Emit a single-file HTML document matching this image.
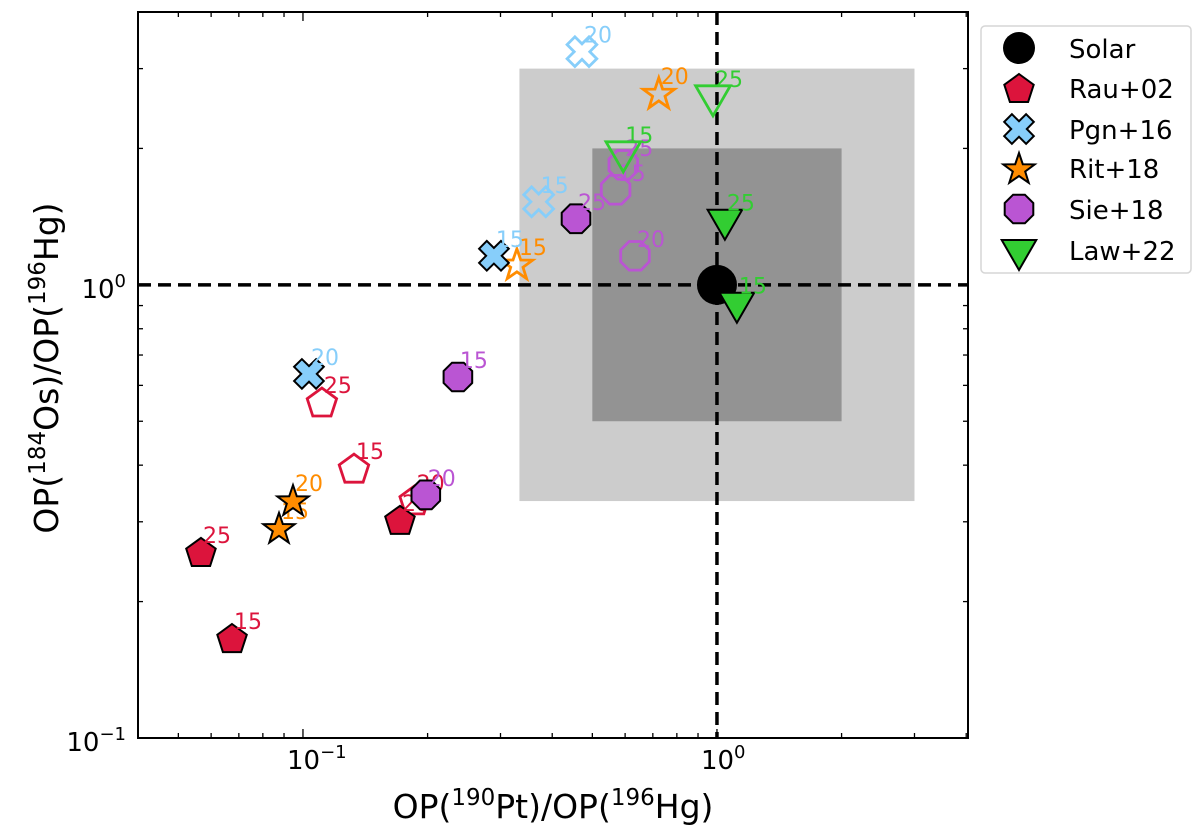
<!DOCTYPE html>
<html><head><meta charset="utf-8"><style>
html,body{margin:0;padding:0;background:#fff;}
svg{display:block;font-family:"DejaVu Sans","Liberation Sans",sans-serif;}
</style></head><body>
<svg id="chart" width="1200" height="830" viewBox="0 0 1200 830" xmlns="http://www.w3.org/2000/svg"></svg>
<script>
const seriesNames = ["Rau+02","Pgn+16","Rit+18","Sie+18","Law+22"];
const seriesColors = ["#DC143C","#87CEFA","#FF8C00","#BA55D3","#32CD32"];
const seriesShapes = ["pentagon","xcross","star","octagon","tri"];
// points: [x, y, label]
const rauFilled = [[0.0567,0.2574,"25"],[0.0674,0.1662,"15"],[0.1715,0.303,"20"]];
const rauOpen   = [[0.1111,0.5515,"25"],[0.1328,0.394,"15"],[0.1861,0.3353,"20"]];
const pgnFilled = [[0.2892,1.159,"15"],[0.1034,0.636,"20"]];
const pgnOpen   = [[0.371,1.525,"15"],[0.472,3.27,"20"]];
const ritFilled = [[0.0875,0.291,"15"],[0.0946,0.335,"20"]];
const ritOpen   = [[0.3286,1.113,"15"],[0.7236,2.653,"20"]];
const sieFilled = [[0.2367,0.626,"15"],[0.4566,1.399,"25"],[0.198,0.344,"20"]];
const sieOpen   = [[0.594,1.84,"25"],[0.569,1.621,"15"],[0.634,1.159,"20"]];
const lawFilled = [[1.045,1.392,"25"],[1.117,0.913,"15"]];
const lawOpen   = [[0.978,2.613,"25"],[0.594,1.966,"15"]];
const solarPoint = [1,1];
const outerBox = [1/3,3,1/3,3];
const innerBox = [0.5,2,0.5,2];

const filledSets=[rauFilled,pgnFilled,ritFilled,sieFilled,lawFilled];
const openSets=[rauOpen,pgnOpen,ritOpen,sieOpen,lawOpen];

const L=138,R=968,T=12,B=738;
const xmin=Math.log10(0.03995), xmax=Math.log10(4.04);
const ymin=-1, ymax=Math.log10(4.0);
function X(v){return L+(Math.log10(v)-xmin)/(xmax-xmin)*(R-L);}
function Y(v){return B-(Math.log10(v)-ymin)/(ymax-ymin)*(B-T);}
const svg=document.getElementById('chart');
const NS="http://www.w3.org/2000/svg";
function el(tag,attrs,parent){const e=document.createElementNS(NS,tag);for(const k in attrs)e.setAttribute(k,attrs[k]);(parent||svg).appendChild(e);return e;}

function shapePts(shape,cx,cy){
  let p=[];
  if(shape==="pentagon"){for(let k=0;k<5;k++){const a=(-90+72*k)*Math.PI/180;p.push([cx+15.5*Math.cos(a),cy+15.5*Math.sin(a)+1.5]);}}
  else if(shape==="octagon"){for(let k=0;k<8;k++){const a=(22.5+45*k)*Math.PI/180;p.push([cx+15.5*Math.cos(a),cy+15.5*Math.sin(a)]);}}
  else if(shape==="star"){for(let k=0;k<10;k++){const r=k%2?6.5:16.5;const a=(-90+36*k)*Math.PI/180;p.push([cx+r*Math.cos(a),cy+r*Math.sin(a)+1.5]);}}
  else if(shape==="tri"){const r=20;p=[[cx,cy+r],[cx-r*0.866,cy-r/2],[cx+r*0.866,cy-r/2]];}
  else if(shape==="xcross"){const w=5.5,l=15.5;
    const q=[[-w,-l],[w,-l],[w,-w],[l,-w],[l,w],[w,w],[w,l],[-w,l],[-w,w],[-l,w],[-l,-w],[-w,-w]];
    const c=Math.cos(Math.PI/4),sn=Math.sin(Math.PI/4);
    p=q.map(([a,b])=>[cx+a*c-b*sn,cy+a*sn+b*c]);}
  return p.map(a=>a[0].toFixed(1)+","+a[1].toFixed(1)).join(" ");
}

const ob=el('rect',{x:X(outerBox[0]),y:Y(outerBox[3]),width:X(outerBox[1])-X(outerBox[0]),height:Y(outerBox[2])-Y(outerBox[3]),fill:"#cccccc"});


const ib=el('rect',{x:X(innerBox[0]),y:Y(innerBox[3]),width:X(innerBox[1])-X(innerBox[0]),height:Y(innerBox[2])-Y(innerBox[3]),fill:"#939393"});


const hl=el('line',{x1:L,x2:R,y1:Y(1),y2:Y(1),stroke:"#000","stroke-width":3.5,"stroke-dasharray":"13,7"});


const vl=el('line',{x1:X(1),x2:X(1),y1:T,y2:B,stroke:"#000","stroke-width":3.5,"stroke-dasharray":"13,7"});



const tg=el('g',{stroke:"#000","stroke-width":1.3});


for(let d=-2;d<=0;d++){for(let m=1;m<=9;m++){const v=m*Math.pow(10,d);const px=X(v);if(px<L+1||px>R-1)continue;const len=m===1?9:5;
  el('line',{x1:px,x2:px,y1:B,y2:B-len},tg);el('line',{x1:px,x2:px,y1:T,y2:T+len},tg);}}
for(let d=-1;d<=0;d++){for(let m=1;m<=9;m++){const v=m*Math.pow(10,d);const py=Y(v);if(py<T+1||py>B-1)continue;const len=m===1?9:5;
  el('line',{x1:L,x2:L+len,y1:py,y2:py},tg);el('line',{x1:R,x2:R-len,y1:py,y2:py},tg);}}
const xTickLabels=[["10","\u22121",0.1],["10","0",1]];
xTickLabels.forEach(t=>{const tx=el('text',{x:X(t[2])-16,y:769,"font-size":26});tx.innerHTML=t[0]+'<tspan dy="-11" font-size="18">'+t[1]+'</tspan>';
  
  });
const yTickLabels=[["10","\u22121",0.1],["10","0",1]];
yTickLabels.forEach(t=>{const tx=el('text',{x:126,y:Y(t[2])+13,"font-size":26,"text-anchor":"end"});tx.innerHTML=t[0]+'<tspan dy="-11" font-size="18">'+t[1]+'</tspan>';
  
  });

function drawPt(si,pt,filled){
  const col=seriesColors[si];
  const px=X(pt[0]),py=Y(pt[1]);
  const m=el('polygon',{points:shapePts(seriesShapes[si],px,py),fill:filled?col:"none",stroke:filled?"#000":col,"stroke-width":filled?2:2.8});
  
  
  const t=el('text',{x:px+2,y:py-9,"font-size":22,fill:col});t.textContent=pt[2];
  
  
}
for(let i=0;i<5;i++){openSets[i].forEach(p=>drawPt(i,p,false));}
const sol=el('circle',{cx:X(solarPoint[0]),cy:Y(solarPoint[1]),r:20,fill:"#000"});


for(let i=0;i<5;i++){filledSets[i].forEach(p=>drawPt(i,p,true));}

const fr=el('rect',{x:L,y:T,width:R-L,height:B-T,fill:"none",stroke:"#000","stroke-width":2});



const xt=el('text',{x:553,y:818,"font-size":33,"text-anchor":"middle"});
xt.innerHTML='OP(<tspan dy="-13" font-size="23">190</tspan><tspan dy="13">Pt)/OP(</tspan><tspan dy="-13" font-size="23">196</tspan><tspan dy="13">Hg)</tspan>';


const yt=el('text',{x:0,y:0,"font-size":33,"text-anchor":"middle",transform:"translate(58,368) rotate(-90)"});
yt.innerHTML='OP(<tspan dy="-13" font-size="23">184</tspan><tspan dy="13">Os)/OP(</tspan><tspan dy="-13" font-size="23">196</tspan><tspan dy="13">Hg)</tspan>';



const lg=el('g',{});


el('rect',{x:981,y:26,width:210,height:247,rx:4,fill:"#fff",stroke:"#d6d6d6","stroke-width":1.5},lg);
const ly=[48,88,129,168,209,250];
const lc=el('circle',{cx:1019,cy:ly[0],r:16,fill:"#000"},lg);


const lt0=el('text',{x:1069,y:ly[0]+10,"font-size":26},lg);lt0.textContent="Solar";


for(let i=0;i<5;i++){
  const m=el('polygon',{points:shapePts(seriesShapes[i],1019,ly[i+1]),fill:seriesColors[i],stroke:"#000","stroke-width":2},lg);
  
  
  const t=el('text',{x:1069,y:ly[i+1]+10,"font-size":26},lg);t.textContent=seriesNames[i];
  
  
}
</script>
</body></html>
